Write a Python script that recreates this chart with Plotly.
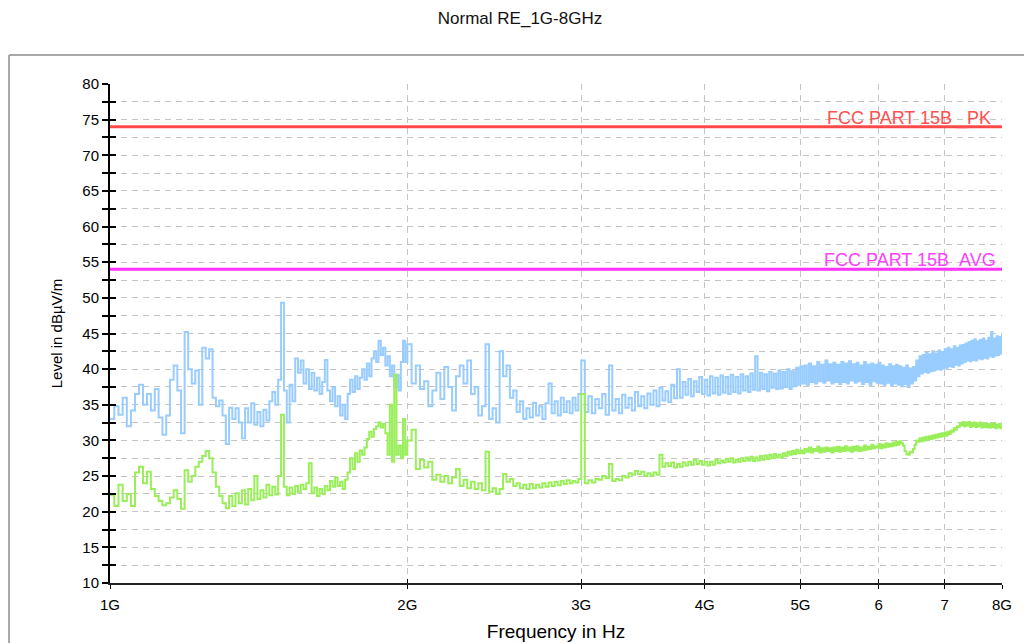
import math
import plotly.graph_objects as go

chart_title = "Normal RE_1G-8GHz"
x_title = "Frequency in Hz"
y_title = "Level in dBµV/m"

# sweep frequencies (MHz)
freq_seg1 = list(range(1000, 2001, 10))
freq_seg2 = list(range(2020, 3001, 20))
freq_seg3 = list(range(3025, 8001, 25))
freq_mhz = freq_seg1 + freq_seg2 + freq_seg3

# peak trace (blue), dBuV/m
peak_seg1 = [
    33.0, 34.8, 33.6, 36.0, 32.0, 34.2, 36.5, 37.8, 35.0, 36.5,
    34.2, 37.2, 33.2, 30.8, 33.5, 38.5, 40.5, 37.0, 31.0, 45.2,
    40.0, 38.0, 39.8, 35.0, 43.0, 41.5, 42.8, 36.0, 34.8, 35.6,
    33.5, 29.5, 34.6, 33.0, 34.5, 32.5, 30.3, 34.5, 32.5, 35.2,
    32.2, 34.0, 32.0, 34.3, 32.8, 35.5, 36.8, 35.0, 38.5, 49.3,
    37.0, 32.5, 37.8, 35.5, 41.5, 39.5, 41.2, 38.0, 40.0, 37.2,
    39.5, 37.0, 38.8, 36.5, 38.2, 41.3, 37.0, 35.5, 37.5, 34.8,
    36.2, 33.5, 35.0, 33.0, 36.5, 38.5, 36.8, 39.0, 37.2, 38.8,
    40.0, 38.5, 40.8, 39.0, 41.5, 42.5, 41.0, 44.0, 42.0, 43.0,
    40.5, 41.8, 39.0, 40.5, 37.5, 39.2, 37.0, 41.0, 44.0, 41.0,
    43.5,
]
peak_seg2 = [
    38.0, 40.5, 37.2, 38.3, 34.8, 37.0, 39.5, 35.8, 40.3, 37.5,
    34.2, 39.0, 40.5, 38.0, 41.2, 36.5, 37.5, 33.5, 34.8, 43.5,
    33.0, 34.5, 32.5, 42.5, 39.0, 40.5, 36.0, 37.0, 34.0, 35.5,
    33.0, 34.5, 33.2, 35.3, 33.5, 34.8, 33.0, 35.2, 38.0, 33.8,
    35.5, 33.5, 36.0, 34.0, 35.5, 33.8, 36.0, 34.2, 36.5, 41.2,
]
peak_seg3 = [
    34.0, 36.2, 33.8, 35.8, 34.5, 36.5, 33.6, 40.5, 34.2, 35.8,
    33.8, 36.4, 34.6, 36.0, 34.2, 36.8, 34.8, 36.2, 34.5, 36.6,
    35.0, 37.0, 34.8, 37.4, 35.6, 36.9, 35.4, 37.8, 35.9, 40.0,
    36.0, 38.2, 36.4, 38.6, 36.2, 38.3, 36.8, 38.9, 36.5, 38.5,
    36.3, 39.0, 36.6, 38.8, 36.4, 39.1, 36.7, 38.9, 36.5, 39.2,
    36.8, 38.9, 36.6, 39.3, 37.0, 39.0, 36.8, 39.4, 37.1, 41.8,
    37.0, 39.5, 37.2, 39.3, 36.9, 39.6, 37.4, 39.4, 37.2, 39.8,
    37.3, 39.6, 37.5, 40.0, 37.2, 39.7, 37.6, 40.2, 37.8, 40.4,
    38.0, 40.5, 37.8, 40.8, 38.2, 40.4, 38.0, 41.0, 38.3, 40.6,
    38.1, 41.2, 38.4, 40.7, 38.0, 40.9, 38.2, 40.6, 37.9, 41.0,
    38.2, 40.8, 38.0, 41.1, 38.4, 40.7, 38.1, 40.9, 38.3, 40.5,
    37.9, 41.0, 38.2, 40.6, 37.8, 40.8, 38.3, 40.6, 38.1, 40.9,
    38.0, 40.5, 37.8, 40.3, 38.1, 40.7, 37.7, 40.4, 38.0, 40.6,
    37.8, 40.4, 37.6, 40.2, 37.9, 40.5, 37.5, 40.1, 38.0, 40.3,
    38.4, 41.2, 39.0, 41.8, 39.4, 42.0, 39.6, 42.3, 39.5, 42.1,
    39.7, 42.5, 39.8, 42.2, 40.0, 42.6, 39.9, 42.4, 40.1, 42.8,
    40.2, 43.0, 40.4, 42.8, 40.3, 43.2, 40.6, 43.0, 40.5, 43.3,
    40.8, 43.4, 41.0, 43.6, 41.2, 43.8, 41.1, 44.0, 41.3, 44.2,
    41.2, 43.9, 41.5, 44.1, 41.4, 44.3, 41.6, 44.0, 41.5, 44.4,
    41.8, 45.2, 41.7, 44.3, 41.9, 44.6, 42.0, 44.5, 42.2, 45.0,
]
peak_level = peak_seg1 + peak_seg2 + peak_seg3

# average trace (green), dBuV/m
avg_seg1 = [
    22.3, 20.8, 23.8, 21.5, 22.5, 20.8, 25.5, 26.3, 24.0, 25.6,
    23.2, 22.2, 21.5, 20.9, 21.2, 22.0, 23.0, 21.8, 20.4, 25.8,
    24.2, 25.0, 26.3, 27.0, 27.8, 28.5, 27.5, 25.5, 23.5, 22.2,
    21.2, 20.5, 22.2, 20.8, 22.6, 21.2, 23.0, 21.0, 23.2, 21.6,
    25.0, 21.8, 23.0, 22.0, 23.8, 22.3, 23.5, 22.4, 25.0, 33.6,
    23.5, 22.3, 23.4, 22.5, 23.6, 22.8, 23.8, 23.2, 24.0, 26.8,
    22.6, 23.4, 22.2, 23.2, 22.5, 23.6, 23.0, 24.3, 23.5, 24.8,
    23.6, 24.2, 23.2, 24.5, 25.5, 27.5, 26.0, 28.2, 27.0, 28.6,
    28.0, 29.0, 30.2, 31.2, 30.5, 31.6, 32.0, 32.5, 31.8, 32.3,
    31.0, 28.0, 35.0, 27.0, 39.2, 28.0, 29.3, 27.5, 33.0, 28.0,
    30.0,
]
avg_seg2 = [
    31.5, 26.0, 27.3, 26.2, 27.0, 24.5, 25.2, 24.2, 25.0, 24.0,
    24.8, 26.0, 23.6, 24.5, 23.3, 24.2, 23.2, 24.0, 23.0, 28.4,
    22.8, 23.3, 22.5, 23.2, 25.3, 24.2, 24.6, 23.6, 24.0, 23.3,
    23.8, 23.2, 23.9, 23.3, 23.8, 23.4, 24.0, 23.5, 24.1, 23.6,
    24.2, 23.7, 24.3, 23.9, 24.4, 24.0, 24.3, 24.1, 24.6, 36.5,
]
avg_seg3 = [
    24.0, 24.4, 24.1, 24.6, 24.5, 25.0, 24.7, 26.7, 24.3, 24.6,
    24.4, 25.0, 24.8, 25.4, 25.2, 25.7, 25.3, 25.6, 25.0, 25.4,
    25.1, 25.5, 25.2, 28.0, 26.3, 26.8, 26.4, 26.9, 26.2, 26.7,
    26.3, 26.9, 26.5, 27.0, 26.6, 27.3, 26.7, 27.1, 26.6, 27.0,
    26.5, 27.0, 26.6, 27.3, 26.8, 27.2, 26.9, 27.4, 27.0, 27.5,
    26.9, 27.3, 27.0, 27.5, 27.1, 27.6, 27.2, 27.7, 27.1, 27.6,
    27.2, 27.8, 27.3, 27.9, 27.4, 28.0, 27.5, 28.1, 27.6, 28.0,
    27.6, 28.2, 27.8, 28.4, 28.0, 28.5, 28.1, 28.7, 28.2, 28.6,
    28.2, 28.8, 28.4, 29.0, 28.3, 28.8, 28.5, 29.1, 28.3, 28.9,
    28.4, 29.0, 28.5, 28.9, 28.3, 29.0, 28.5, 29.1, 28.4, 29.0,
    28.5, 29.2, 28.6, 29.0, 28.4, 29.1, 28.6, 29.2, 28.5, 29.0,
    28.6, 29.3, 28.7, 29.1, 28.8, 29.4, 28.9, 29.2, 29.0, 29.5,
    28.9, 29.4, 29.0, 29.6, 29.1, 29.5, 29.2, 29.7, 29.3, 29.8,
    29.4, 29.9, 29.6, 29.3, 28.5, 28.1, 28.0, 28.4, 28.3, 28.8,
    29.4, 30.0, 29.8, 30.3, 29.9, 30.4, 30.0, 30.5, 30.1, 30.6,
    30.2, 30.7, 30.3, 30.8, 30.4, 30.9, 30.5, 31.0, 30.6, 31.1,
    30.7, 31.2, 30.9, 31.4, 31.2, 31.7, 31.5, 32.0, 31.9, 32.4,
    32.1, 32.6, 32.0, 32.5, 32.1, 32.6, 31.9, 32.4, 32.0, 32.5,
    31.9, 32.4, 32.0, 32.5, 31.8, 32.3, 31.9, 32.4, 31.8, 32.3,
    31.8, 32.3, 31.9, 32.4, 31.7, 32.2, 31.8, 32.3, 31.7, 32.1,
]
avg_level = avg_seg1 + avg_seg2 + avg_seg3

limit_freq = [1000, 8000]
limit_pk = 74
limit_avg = 54
limit_pk_name = "FCC PART 15B _PK"
limit_avg_name = "FCC PART 15B_AVG"

x_tickvals = [1000, 2000, 3000, 4000, 5000, 6000, 7000, 8000]
x_ticktext = ["1G", "2G", "3G", "4G", "5G", "6", "7", "8G"]

FONT = "Liberation Sans, Arial, sans-serif"
GRID = "#c4c4c4"
DASH = "6px,5px"

# the page places the figure 8px from the top-left corner
W, H = 1024, 635

fig = go.Figure()
fig.add_trace(go.Scatter(x=freq_mhz, y=peak_level, mode="lines",
                         line=dict(color="#99CCFF", width=2, shape="hv"),
                         hoverinfo="skip"))
fig.add_trace(go.Scatter(x=freq_mhz, y=avg_level, mode="lines",
                         line=dict(color="#99EE5A", width=2, shape="hv"),
                         hoverinfo="skip"))
fig.add_trace(go.Scatter(x=limit_freq, y=[limit_pk] * 2, mode="lines",
                         line=dict(color="#FF4A4A", width=3), hoverinfo="skip"))
fig.add_trace(go.Scatter(x=limit_freq, y=[limit_avg] * 2, mode="lines",
                         line=dict(color="#FF33FF", width=3), hoverinfo="skip",
                         xaxis="x2", yaxis="y2"))

xr = [math.log10(1000), math.log10(8000)]
frame_top = (583 - 55) / 499

fig.update_layout(
    width=W, height=H,
    margin=dict(l=102, r=30, t=76, b=60),
    paper_bgcolor="white", plot_bgcolor="white",
    showlegend=False,
    font=dict(family=FONT, color="black", size=13),
    title=dict(text=chart_title, x=0.5, xanchor="center", y=1 - 10 / H,
               yanchor="middle", font=dict(size=17, color="#111")),
    xaxis=dict(type="log", range=xr, tickvals=x_tickvals, ticktext=x_ticktext,
               automargin=False,
               showgrid=True, gridcolor=GRID, griddash=DASH, gridwidth=1,
               ticks="outside", ticklen=4, tickwidth=1.2, tickcolor="black",
               showline=True, linecolor="#222", linewidth=1.5, zeroline=False,
               tickfont=dict(size=15), ticklabelstandoff=3,
               title=dict(text=x_title, font=dict(size=19), standoff=13)),
    yaxis=dict(range=[10, 80], tick0=10, dtick=5, automargin=False,
               showgrid=True, gridcolor=GRID, griddash=DASH, gridwidth=1,
               ticks="outside", ticklen=6, tickwidth=1.5, tickcolor="black",
               showline=True, linecolor="black", linewidth=2, zeroline=False,
               minor=dict(dtick=2.5, ticks="outside", ticklen=6, tickwidth=1.5,
                          tickcolor="black", showgrid=True, gridcolor=GRID,
                          griddash=DASH, gridwidth=1),
               tickfont=dict(size=15), ticklabelstandoff=0,
               title=dict(text=y_title, font=dict(size=15), standoff=16)),
    xaxis2=dict(type="log", range=xr, tickvals=x_tickvals, overlaying="x",
                anchor="y2", side="bottom", showgrid=False, showticklabels=False,
                ticks="inside", ticklen=4, tickwidth=1.2, tickcolor="black",
                showline=False, zeroline=False, automargin=False),
    yaxis2=dict(range=[10, 80], tick0=10, dtick=5, overlaying="y", anchor="x2",
                side="left", showgrid=False, showticklabels=False, automargin=False,
                ticks="inside", ticklen=6, tickwidth=1.5, tickcolor="black",
                minor=dict(dtick=2.5, ticks="inside", ticklen=6, tickwidth=1.5,
                           tickcolor="black", showgrid=False),
                showline=False, zeroline=False),
    shapes=[
        dict(type="line", xref="paper", yref="paper", x0=-0.1132, x1=1.1,
             y0=frame_top, y1=frame_top, line=dict(color="#a8a8a8", width=2),
             layer="below"),
        dict(type="line", xref="paper", yref="paper", x0=-0.1132, x1=-0.1132,
             y0=-0.2, y1=frame_top, line=dict(color="#a8a8a8", width=2),
             layer="below"),
    ],
    annotations=[
        dict(text=limit_pk_name, xref="x", yref="y", x=math.log10(limit_freq[-1]),
             y=limit_pk, xanchor="right", yanchor="bottom", xshift=-9, yshift=-4,
             showarrow=False, font=dict(size=18, color="#FF5050")),
        dict(text=limit_avg_name, xref="x", yref="y", x=math.log10(limit_freq[-1]),
             y=limit_avg, xanchor="right", yanchor="bottom", xshift=-4, yshift=-4,
             showarrow=False, font=dict(size=18, color="#FF40FF")),
    ],
)

fig.write_html("out.html")
